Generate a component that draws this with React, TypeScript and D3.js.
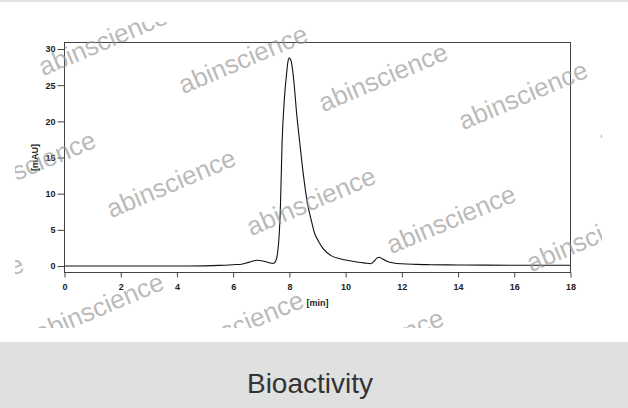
import { useEffect, useRef } from "react";
import * as d3 from "d3";

// chromatogram trace: retention time [min] / absorbance [mAU]
const times = [
  0, 4.5, 5, 5.5, 6, 6.3, 6.55, 6.85, 7.1, 7.3, 7.42, 7.5, 7.58, 7.64, 7.68, 7.74,
  7.82, 7.9, 7.96, 8.0, 8.05, 8.1, 8.16, 8.26, 8.37, 8.47, 8.57, 8.66, 8.75, 8.89,
  9.04, 9.2, 9.5, 9.8, 10.1, 10.4, 10.7, 10.9, 11.0, 11.1, 11.2, 11.3, 11.45, 11.62,
  12, 12.5, 13, 14, 15, 16, 17, 18,
];
const signal = [
  0, 0, 0.02, 0.08, 0.18, 0.25, 0.5, 0.8, 0.65, 0.42, 0.35, 0.6, 1.8, 4.5, 8, 17,
  23, 26.6, 28.5, 28.8, 28.5, 27.5, 25.5, 21, 17, 13.5, 10.5, 8.3, 6.8, 4.6,
  3.4, 2.4, 1.4, 1.0, 0.75, 0.55, 0.4, 0.32, 0.6, 1.05, 1.2, 1.0, 0.7, 0.48,
  0.3, 0.22, 0.18, 0.14, 0.12, 0.1, 0.1, 0.1,
];
const xTicks = [0, 2, 4, 6, 8, 10, 12, 14, 16, 18];
const yTicks = [0, 5, 10, 15, 20, 25, 30];
const xDomain = [0, 18];
const yDomain = [-0.9, 30.9];
const xLabel = "[min]";
const yLabel = "[mAU]";
const watermark = "abinscience";
const footerTitle = "Bioactivity";

export default function App() {
  const svgRef = useRef<SVGSVGElement | null>(null);

  useEffect(() => {
    const width = 628;
    const height = 408;
    const plot = { left: 64.5, right: 570.5, top: 42.5, bottom: 272.5 };
    const font = "'Liberation Sans', Arial, Helvetica, sans-serif";

    const svg = d3.select(svgRef.current);
    svg.selectAll("*").remove();
    svg.attr("width", width).attr("height", height).attr("viewBox", `0 0 ${width} ${height}`);

    svg.append("rect").attr("width", width).attr("height", height).attr("fill", "#fff");
    // thin strip on top
    svg.append("rect").attr("width", width).attr("height", 2).attr("fill", "#e2e2e2");

    const x = d3.scaleLinear().domain(xDomain).range([plot.left, plot.right]);
    const y = d3.scaleLinear().domain(yDomain).range([plot.bottom, plot.top]);

    const data = times.map((t, i) => ({ t, v: signal[i] }));

    // trace
    const line = d3
      .line<{ t: number; v: number }>()
      .x((d) => x(d.t))
      .y((d) => y(d.v))
      .curve(d3.curveMonotoneX);

    svg
      .append("path")
      .datum(data)
      .attr("d", line)
      .attr("fill", "none")
      .attr("stroke", "#111")
      .attr("stroke-width", 1.1);

    // frame
    svg
      .append("rect")
      .attr("x", plot.left)
      .attr("y", plot.top)
      .attr("width", plot.right - plot.left)
      .attr("height", plot.bottom - plot.top)
      .attr("fill", "none")
      .attr("stroke", "#444")
      .attr("stroke-width", 1);

    const yAxis = svg
      .append("g")
      .attr("transform", `translate(${plot.left},0)`)
      .call(d3.axisLeft(y).tickValues(yTicks).tickSize(7).tickPadding(2));
    yAxis.select(".domain").remove();

    const xAxis = svg
      .append("g")
      .attr("transform", `translate(0,${plot.bottom})`)
      .call(d3.axisBottom(x).tickValues(xTicks).tickSize(5).tickPadding(6));
    xAxis.select(".domain").remove();

    svg
      .selectAll(".tick line")
      .attr("stroke", "#444");
    svg
      .selectAll(".tick text")
      .attr("fill", "#222")
      .style("font-family", font)
      .style("font-size", "9px")
      .style("font-weight", "bold");

    svg
      .append("text")
      .attr("x", (plot.left + plot.right) / 2)
      .attr("y", 306)
      .attr("text-anchor", "middle")
      .attr("fill", "#222")
      .style("font-family", font)
      .style("font-size", "9px")
      .style("font-weight", "bold")
      .text(xLabel);

    svg
      .append("text")
      .attr("transform", `translate(38,${(plot.top + plot.bottom) / 2}) rotate(-90)`)
      .attr("text-anchor", "middle")
      .attr("fill", "#222")
      .style("font-family", font)
      .style("font-size", "9px")
      .style("font-weight", "bold")
      .text(yLabel);

    // watermark layer, clipped to the picture area
    svg
      .append("clipPath")
      .attr("id", "wm-clip")
      .append("rect")
      .attr("x", 15)
      .attr("y", 22)
      .attr("width", 587)
      .attr("height", 306);

    const marks: [number, number][] = [];
    for (let j = -1; j <= 3; j++) {
      for (let i = -3; i <= 5; i++) {
        marks.push([103 + i * 140 + j * 68, 41 + i * 18 + j * 142]);
      }
    }
    svg
      .append("g")
      .attr("clip-path", "url(#wm-clip)")
      .selectAll("text")
      .data(marks)
      .enter()
      .append("text")
      .attr("transform", (d) => `translate(${d[0]},${d[1]}) rotate(-23)`)
      .attr("text-anchor", "middle")
      .attr("dy", "0.35em")
      .attr("fill", "rgba(150,150,150,0.66)")
      .style("font-family", font)
      .style("font-size", "26px")
      .text(watermark);

    // footer
    svg
      .append("rect")
      .attr("y", 342)
      .attr("width", width)
      .attr("height", height - 342)
      .attr("fill", "#dfe0e0");
    svg
      .append("text")
      .attr("x", 310)
      .attr("y", 392.5)
      .attr("text-anchor", "middle")
      .attr("fill", "#333")
      .style("font-family", font)
      .style("font-size", "28px")
      .text(footerTitle);
  }, []);

  return (
    <div style={{ position: "absolute", left: 0, top: 0 }}>
      <svg ref={svgRef} style={{ display: "block" }} />
    </div>
  );
}
